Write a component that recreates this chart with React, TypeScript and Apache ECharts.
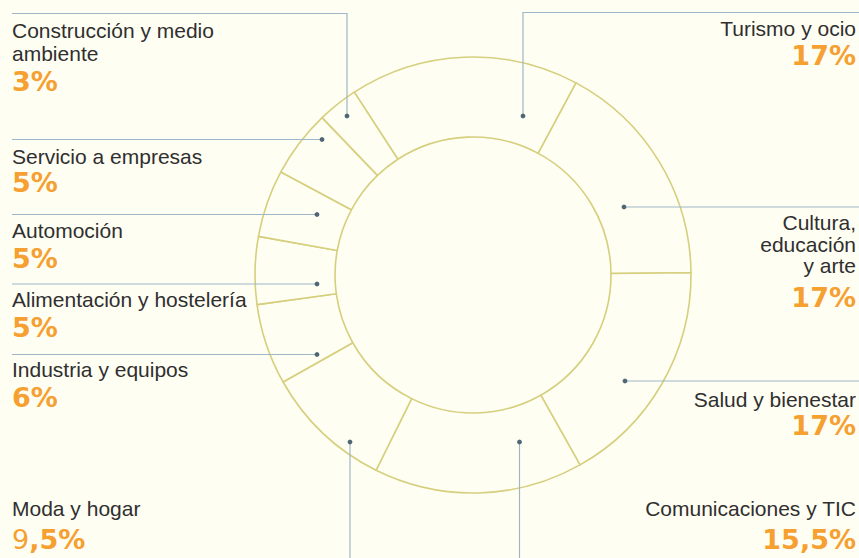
import React, { useEffect, useRef } from "react";
import * as echarts from "echarts";

// ---- Data ----
const categories = [
  "Turismo y ocio",
  "Cultura, educación y arte",
  "Salud y bienestar",
  "Comunicaciones y TIC",
  "Moda y hogar",
  "Industria y equipos",
  "Alimentación y hostelería",
  "Automoción",
  "Servicio a empresas",
  "Construcción y medio ambiente",
];
const values = [17, 17, 17, 15.5, 9.5, 6, 5, 5, 5, 3];
// how each category name is broken into lines in the label
const labelLines = [
  ["Turismo y ocio"],
  ["Cultura,", "educación", "y arte"],
  ["Salud y bienestar"],
  ["Comunicaciones y TIC"],
  ["Moda y hogar"],
  ["Industria y equipos"],
  ["Alimentación y hostelería"],
  ["Automoción"],
  ["Servicio a empresas"],
  ["Construcción y medio", "ambiente"],
];

// ---- Layout (annotation placement, not data) ----
const W = 859;
const H = 558;
const CENTER = [473, 275];
const R_IN = 138;
const R_OUT = 218;
const START_ANGLE = 123;

type Lay = {
  side: "left" | "right";
  tx: number;
  ty: number;
  gap: number;
  py: number;
  path: number[][];
  lightFirst?: boolean;
};
const layouts: Lay[] = [
  { side: "right", tx: 856, ty: 28.5, gap: 0, py: 55, path: [[523, 116], [523, 12.5], [W, 12.5]] },
  { side: "right", tx: 856, ty: 222.5, gap: 21.5, py: 297, path: [[624, 207], [W, 207]] },
  { side: "right", tx: 856, ty: 399, gap: 0, py: 425.5, path: [[625, 381], [W, 381]] },
  { side: "right", tx: 856, ty: 508.5, gap: 0, py: 539, path: [[519.5, 442], [519.5, H]] },
  { side: "left", tx: 12, ty: 508.5, gap: 0, py: 539, path: [[350, 442], [350, H]], lightFirst: true },
  { side: "left", tx: 12, ty: 369.5, gap: 0, py: 397, path: [[317, 354.5], [12, 354.5]] },
  { side: "left", tx: 12, ty: 299, gap: 0, py: 327, path: [[317, 284], [12, 284]] },
  { side: "left", tx: 12, ty: 230.5, gap: 0, py: 258, path: [[317, 214.5], [12, 214.5]] },
  { side: "left", tx: 12, ty: 156.5, gap: 0, py: 182.5, path: [[322, 139.5], [12, 139.5]] },
  { side: "left", tx: 12, ty: 30, gap: 23.5, py: 81, path: [[347, 116], [347, 13.5], [12, 13.5]] },
];

const BG = "#fffef3";
const RING = "#d6cf7e";
const LEADER = "#9fb6c6";
const DOT = "#4e6675";
const ORANGE = "#f5a031";
const TEXT = "#2f2f2f";

function fmt(v: number) {
  return String(v).replace(".", ",") + "%";
}

export default function App() {
  const ref = useRef<HTMLDivElement>(null);
  useEffect(() => {
    if (!ref.current) return;
    const chart = echarts.init(ref.current, null, { renderer: "svg" });

    const graphics: any[] = [];
    categories.forEach((_, i) => {
      const l = layouts[i];
      graphics.push({
        type: "polyline",
        shape: { points: l.path },
        style: { stroke: LEADER, lineWidth: 1.2, fill: null },
        silent: true,
        z: 100,
      });
      graphics.push({
        type: "circle",
        shape: { cx: l.path[0][0], cy: l.path[0][1], r: 2.4 },
        style: { fill: DOT },
        silent: true,
        z: 101,
      });
      labelLines[i].forEach((line, k) => {
        graphics.push({
          type: "text",
          x: l.tx,
          y: l.ty + k * l.gap,
          z: 100,
          style: {
            text: line,
            fill: TEXT,
            font: '21px "Liberation Sans", Arial, sans-serif',
            align: l.side === "left" ? "left" : "right",
            verticalAlign: "middle",
          },
          silent: true,
        });
      });
      const pct = fmt(values[i]);
      let text = "{b|" + pct + "}";
      if (l.lightFirst) {
        const intPart = String(Math.floor(values[i]));
        text = "{a|" + intPart + "}{b|" + pct.slice(intPart.length) + "}";
      }
      graphics.push({
        type: "text",
        x: l.tx,
        y: l.py,
        z: 100,
        style: {
          text,
          align: l.side === "left" ? "left" : "right",
          verticalAlign: "middle",
          rich: {
            a: {
              fill: ORANGE,
              fontFamily: '"DejaVu Sans", sans-serif',
              fontWeight: "normal",
              fontSize: 27,
              color: ORANGE,
            },
            b: {
              fill: ORANGE,
              fontFamily: '"DejaVu Sans", sans-serif',
              fontWeight: "bold",
              fontSize: 27,
              color: ORANGE,
            },
          },
        },
        silent: true,
      });
    });

    chart.setOption({
      animation: false,
      backgroundColor: BG,
      series: [
        {
          type: "pie",
          center: CENTER,
          radius: [R_IN, R_OUT],
          startAngle: START_ANGLE,
          clockwise: true,
          avoidLabelOverlap: false,
          label: { show: false },
          labelLine: { show: false },
          emphasis: { disabled: true },
          silent: true,
          itemStyle: { color: BG, borderColor: RING, borderWidth: 1.6 },
          data: categories.map((c, i) => ({ name: c, value: values[i] })),
          z: 1,
        },
      ],
      graphic: graphics,
    });
    return () => chart.dispose();
  }, []);
  return (
    <div
      ref={ref}
      style={{ position: "fixed", left: 0, top: 0, width: W, height: H }}
    />
  );
}
